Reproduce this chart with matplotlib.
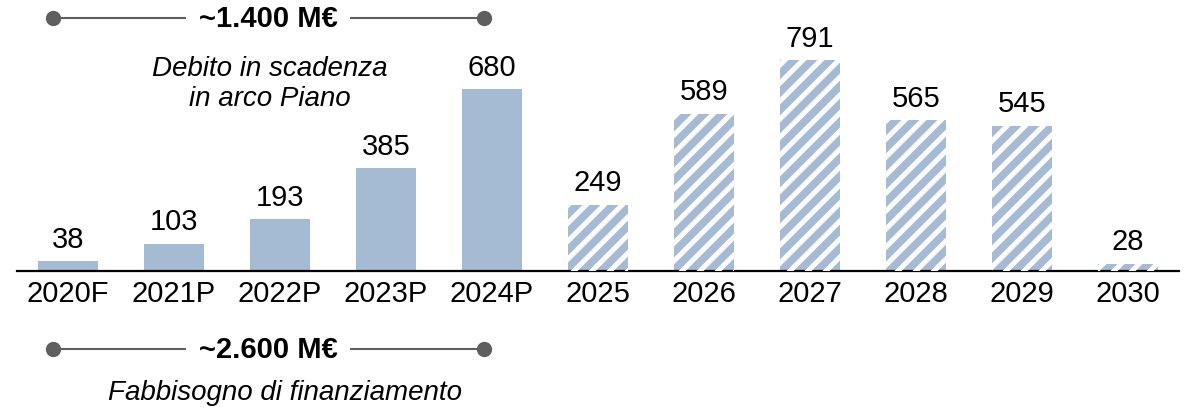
import matplotlib.pyplot as plt

plt.rcParams['font.family'] = ['Liberation Sans', 'DejaVu Sans']

# Data
years = ['2020F', '2021P', '2022P', '2023P', '2024P',
         '2025', '2026', '2027', '2028', '2029', '2030']
values = [38, 103, 193, 385, 680, 249, 589, 791, 565, 545, 28]
hatched = [False] * 5 + [True] * 6

bar_color = '#A4BBD3'
line_color = '#5F5F5F'

fig = plt.figure(figsize=(12.01, 4.10), dpi=100)
ax = fig.add_axes([15 / 1201, 138 / 410, 1166 / 1201, 272 / 410])

bars = ax.bar(range(len(years)), values, width=0.57, color=bar_color, linewidth=0)
for i, v in enumerate(values):
    ax.annotate(str(v), (i, v), xytext=(0, 6), textcoords='offset points',
                ha='center', va='bottom', fontsize=21)

ax.set_xlim(-0.5, len(years) - 0.5)
ax.set_ylim(0, 1019)
ax.set_xticks(range(len(years)))
ax.set_xticklabels(years, fontsize=21)
ax.tick_params(axis='x', length=0, pad=6)
ax.set_yticks([])
for s in ['top', 'left', 'right']:
    ax.spines[s].set_visible(False)
ax.spines['bottom'].set_linewidth(1.6)
ax.spines['bottom'].set_bounds(-0.48, len(years) - 0.52)

# Overlay in pixel coordinates for stripes, brackets and notes
ov = fig.add_axes([0, 0, 1, 1], facecolor='none')
ov.set_xlim(0, 1201)
ov.set_ylim(410, 0)
ov.axis('off')

# white diagonal stripes clipped to the forecast bars
for rect, h in zip(bars, hatched):
    if not h:
        continue
    for c in range(0, 1700, 18):
        ln, = ov.plot([0, 1201], [c, c - 1201], color='white', lw=3.6,
                      solid_capstyle='butt')
        ln.set_clip_path(rect)

for y, label in [(19, '~1.400 M€'), (350, '~2.600 M€')]:
    ov.plot([53, 484], [y, y], color=line_color, lw=1.5, zorder=1)
    ov.plot([53, 484], [y, y], 'o', color=line_color, ms=10, zorder=2)
    ov.text(268, y, label, ha='center', va='center', fontsize=21, fontweight='bold',
            bbox=dict(facecolor='white', edgecolor='none', pad=9), zorder=3)

ov.text(270, 84, 'Debito in scadenza\nin arco Piano', ha='center', va='center',
        fontsize=20, fontstyle='italic', linespacing=1.15)
ov.text(285, 393, 'Fabbisogno di finanziamento', ha='center', va='center',
        fontsize=20, fontstyle='italic')

fig.savefig('out.png', dpi=100)
